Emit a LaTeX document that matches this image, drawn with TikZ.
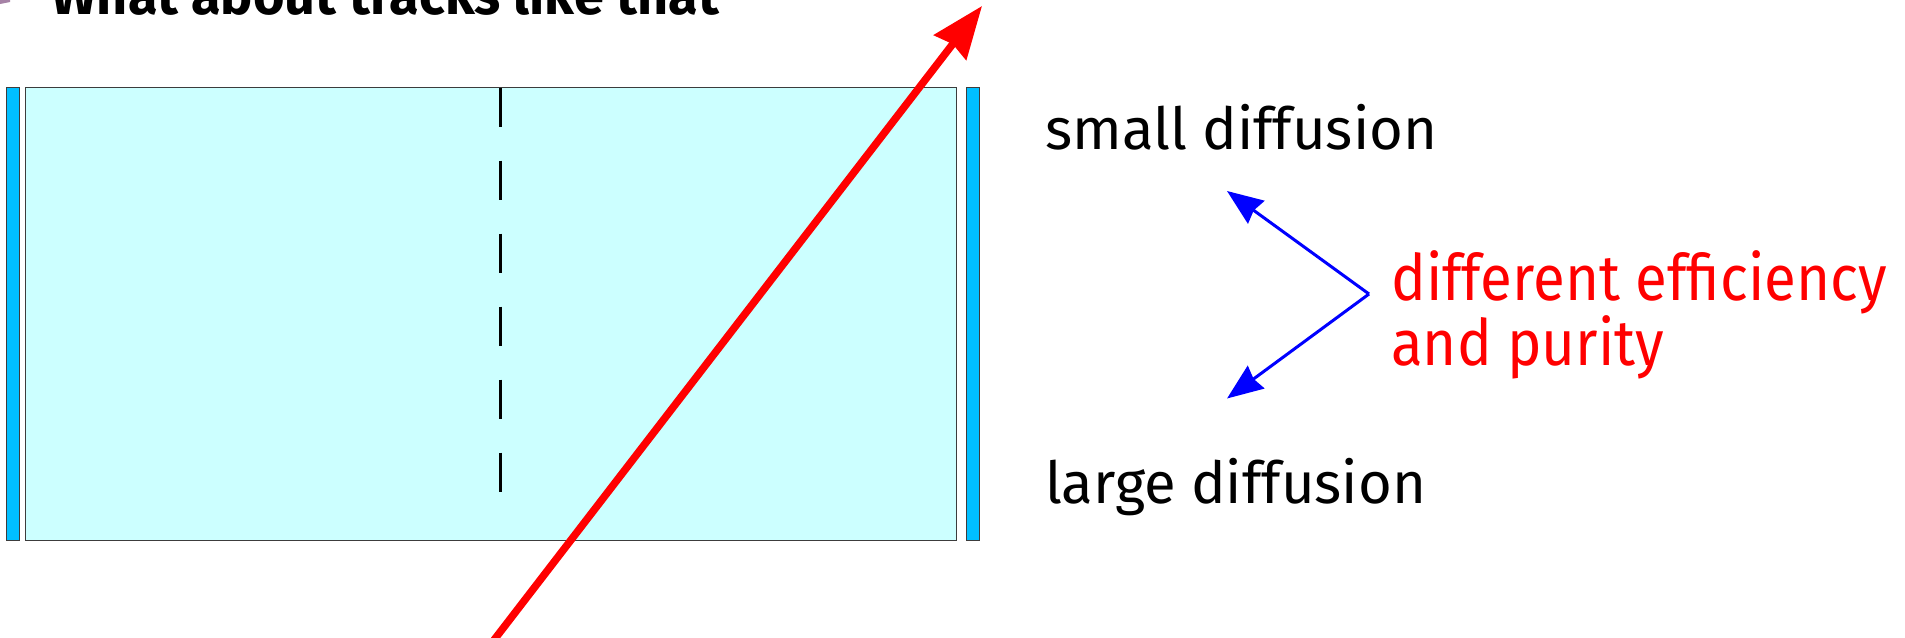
\documentclass[tikz,border=0pt]{standalone}
\usepackage{fontspec}
\setmainfont{Fira Sans}
\usetikzlibrary{arrows.meta}
\definecolor{boxfill}{RGB}{204,255,255}
\definecolor{barfill}{RGB}{0,191,255}
\definecolor{edge}{RGB}{60,60,60}
\begin{document}
\begin{tikzpicture}[x=1pt,y=-1pt,
  txt/.style={anchor=base west,inner sep=0pt,font=\fontsize{58}{64}\selectfont},
  redtxt/.style={anchor=base west,inner sep=0pt,text=red,align=left,xscale=0.91,font=\fontsize{64}{64}\selectfont},
  bar/.style={draw=edge,fill=barfill,line width=1pt},
  chamber/.style={draw=edge,fill=boxfill,line width=1pt},
  track/.style={red,line width=7.5pt,-{Stealth[length=52pt,width=40pt,inset=4pt]}},
  pointer/.style={blue,line width=3pt,-{Stealth[length=36pt,width=28pt,inset=3pt]}}]
\useasboundingbox (0,0) rectangle (1905,637);
% title (cut off at top)
\fill[violet!40!gray!70] (0,0) -- (10,0) -- (10,2) -- (0,4) -- cycle;
\node[anchor=base west,inner sep=0pt,font=\bfseries\fontsize{54}{60}\selectfont] (title) at (51,14) {What about tracks like that};
% detector
\draw[bar] (6.5,87.5) rectangle (19,540.5);
\draw[chamber] (25.5,87.5) rectangle (956,540.5);
\draw[bar] (966.5,87.5) rectangle (979,540.5);
\coordinate (dtop) at (500.5,87.5);
\coordinate (dbot) at (500.5,510);
\draw[line width=3.5pt,dash pattern=on 39pt off 34pt] (dtop) -- (dbot);
% track
\coordinate (tstart) at (494,640);
\coordinate (tend) at (982,6);
\draw[track] (tstart) -- (tend);
% labels
\node[txt] (small) at (1045,149) {small diffusion};
\node[txt] (large) at (1045,503) {large diffusion};
\node[redtxt] (eff) at (1391,300) {different efficiency};
\node[redtxt] (pur) at (1391,365) {and purity};
\coordinate (fork) at (1369,294);
\coordinate (up) at (1227,191);
\coordinate (down) at (1227,398.5);
\draw[pointer] (fork) -- (up);
\draw[pointer] (fork) -- (down);
\end{tikzpicture}
\end{document}
